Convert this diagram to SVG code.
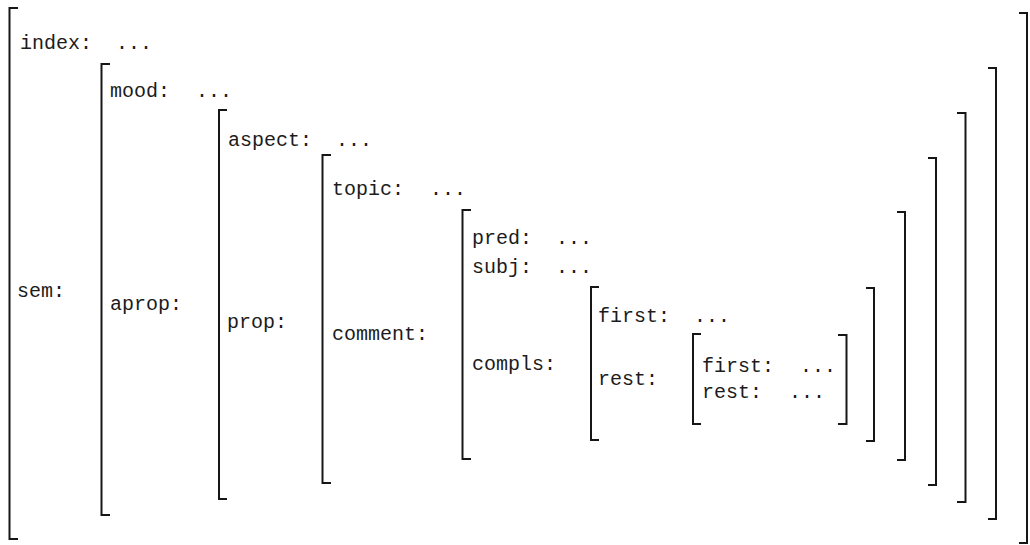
<svg xmlns="http://www.w3.org/2000/svg" width="1030" height="545" viewBox="0 0 1030 545">
  <style>
    .br { fill: none; stroke: #161616; stroke-width: 2; stroke-linecap: square; }
    text { font-family: "Liberation Mono", "DejaVu Sans Mono", monospace; font-size: 20px; fill: #1c1c1c; }
  </style>
  <rect width="1030" height="545" fill="#ffffff"/>

  <!-- outermost matrix: index / sem -->
  <g id="avm-root">
    <path class="br" d="M17,8 H9.5 V539 H17"/>
    <path class="br" d="M1020,13 H1027 V543 H1020"/>
    <text x="20" y="49">index:</text>
    <text x="116" y="49">...</text>
    <text x="17" y="297">sem:</text>
  </g>

  <!-- sem value: mood / aprop -->
  <g id="avm-sem">
    <path class="br" d="M109,64 H101.5 V515 H109"/>
    <path class="br" d="M989,68 H996 V519 H989"/>
    <text x="110" y="97">mood:</text>
    <text x="196" y="97">...</text>
    <text x="110" y="310">aprop:</text>
  </g>

  <!-- aprop value: aspect / prop -->
  <g id="avm-aprop">
    <path class="br" d="M226,110 H219 V499 H226"/>
    <path class="br" d="M958,113 H965.5 V502 H958"/>
    <text x="228" y="146">aspect:</text>
    <text x="336" y="146">...</text>
    <text x="227" y="328">prop:</text>
  </g>

  <!-- prop value: topic / comment -->
  <g id="avm-prop">
    <path class="br" d="M330,155 H322.5 V483 H330"/>
    <path class="br" d="M929,158 H936 V485 H929"/>
    <text x="332" y="195">topic:</text>
    <text x="430" y="195">...</text>
    <text x="332" y="340">comment:</text>
  </g>

  <!-- comment value: pred / subj / compls -->
  <g id="avm-comment">
    <path class="br" d="M470,210 H462.5 V459 H470"/>
    <path class="br" d="M898,212 H905 V460 H898"/>
    <text x="472" y="244">pred:</text>
    <text x="556" y="244">...</text>
    <text x="472" y="273">subj:</text>
    <text x="556" y="273">...</text>
    <text x="472" y="370">compls:</text>
  </g>

  <!-- compls list: first / rest -->
  <g id="avm-compls">
    <path class="br" d="M598,287 H591 V440 H598"/>
    <path class="br" d="M867,288 H874 V441 H867"/>
    <text x="598" y="322">first:</text>
    <text x="694" y="322">...</text>
    <text x="598" y="385">rest:</text>
  </g>

  <!-- rest of the list: first / rest -->
  <g id="avm-rest">
    <path class="br" d="M700,334 H693 V424 H700"/>
    <path class="br" d="M839,335 H846.5 V424 H839"/>
    <text x="702" y="372">first:</text>
    <text x="800" y="372">...</text>
    <text x="702" y="398">rest:</text>
    <text x="789" y="398">...</text>
  </g>

  <!-- no connectors in this structure -->
  <g id="connectors"/>
</svg>
